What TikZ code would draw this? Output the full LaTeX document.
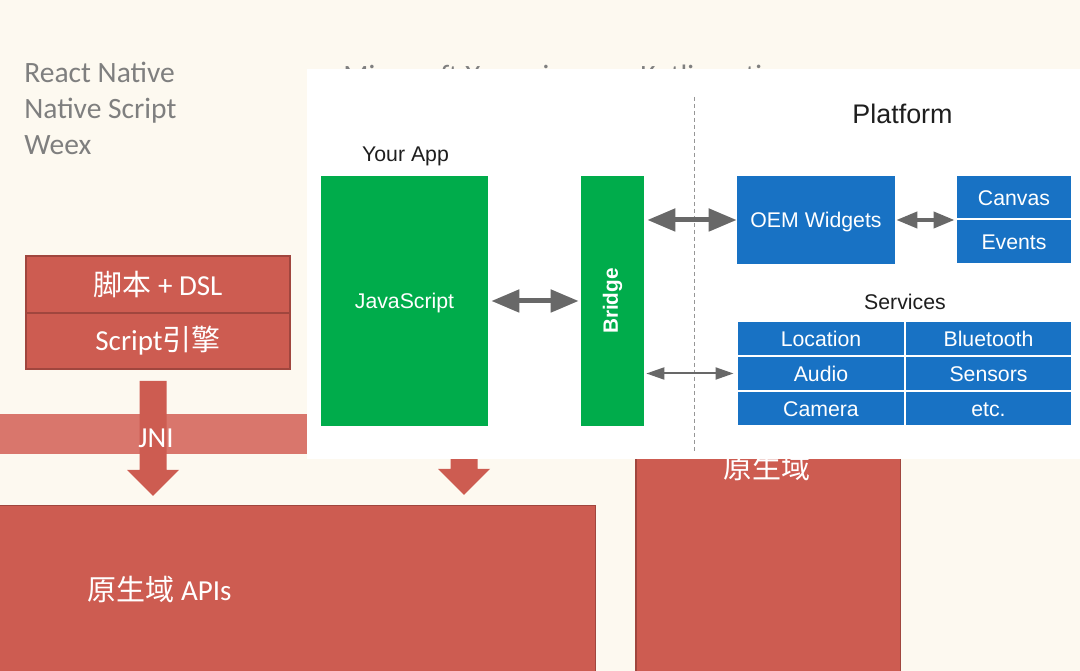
\documentclass[tikz,border=0pt]{standalone}
\usepackage{fontspec}
\setmainfont{Carlito}
\newfontfamily\arial{Liberation Sans}
\newfontfamily\cjk{Noto Sans CJK SC}
\usetikzlibrary{arrows.meta,calc}

\definecolor{cream}{RGB}{253,249,240}
\definecolor{listgray}{RGB}{127,127,127}
\definecolor{slidered}{RGB}{205,92,81}
\definecolor{reddark}{RGB}{160,70,62}
\definecolor{bandred}{RGB}{217,118,108}
\definecolor{appgreen}{RGB}{0,172,75}
\definecolor{platblue}{RGB}{24,114,196}
\definecolor{arrowgray}{RGB}{104,104,104}
\definecolor{txtdark}{RGB}{30,30,30}
\definecolor{dashgray}{RGB}{150,150,150}

% filled block arrow pointing down, from #1 (top of shaft) to #2 (tip)
\newcommand\blockdown[2]{%
  \fill[slidered] ($(#1)+(-13.5,0)$) -- ($(#1)+(13.5,0)$) -- ($(#2)+(13.5,-26)$)
    -- ($(#2)+(26,-26)$) -- (#2) -- ($(#2)+(-26,-26)$) -- ($(#2)+(-13.5,-26)$) -- cycle;}

\begin{document}
\begin{tikzpicture}[x=0.02cm,y=-0.02cm,
  listtxt/.style={font=\fontsize{16.8}{19}\selectfont, text=listgray, inner sep=0, anchor=base west},
  slidetxt/.style={font=\fontsize{16.5}{19}\selectfont, text=white, inner sep=0},
  redbox/.style={fill=slidered, draw=reddark, line width=0.03cm, inner sep=0, text=white,
    font=\fontsize{16.5}{19}\selectfont},
  bandbox/.style={fill=bandred, inner sep=0},
  arialtxt/.style={font=\arial\fontsize{12.1}{14}\selectfont, text=txtdark, inner sep=0},
  greenbox/.style={fill=appgreen, inner sep=0, text=white, text height=8.7pt, text depth=0pt,
    font=\arial\fontsize{12.1}{14}\selectfont},
  bluebox/.style={fill=platblue, inner sep=0, text=white, text height=8.7pt, text depth=0pt,
    font=\arial\fontsize{12.1}{14}\selectfont},
  cellbox/.style={bluebox, draw=white, line width=0.04cm, minimum height=0.7cm},
  bigarrow/.style={draw=arrowgray, line width=0.1cm,
    {Triangle[length=0.56cm,width=0.44cm]}-{Triangle[length=0.56cm,width=0.44cm]}},
  medarrow/.style={draw=arrowgray, line width=0.08cm,
    {Triangle[length=0.42cm,width=0.32cm]}-{Triangle[length=0.42cm,width=0.32cm]}},
  thinarrow/.style={draw=arrowgray, line width=0.04cm,
    {Triangle[length=0.36cm,width=0.24cm]}-{Triangle[length=0.36cm,width=0.24cm]}}
]
\fill[cream] (0,0) rectangle (1080,671);
\useasboundingbox (0,0) rectangle (1080,671);

% cross-platform frameworks
\node[listtxt] (rn) at (24,83) {React Native};
\node[listtxt] (ns) at (24,119) {Native Script};
\node[listtxt] (wx) at (24,155) {Weex};
\node[listtxt] (xm) at (343,86) {Microsoft Xamarin};
\node[listtxt] (kn) at (640,86) {Kotlin native};

% script stack
\node[redbox, minimum width=5.28cm, minimum height=1.14cm] (dsl) at (158,284.5) {{\cjk 脚本} + DSL};
\node[redbox, minimum width=5.28cm, minimum height=1.12cm] (engine) at (158,341) {Script{\cjk 引擎}};

% JNI layer
\node[bandbox, minimum width=6.14cm, minimum height=0.8cm, anchor=north west] (jni) at (0,414) {};
\coordinate (a1top) at (153,381);
\coordinate (a1tip) at (153,496);
\blockdown{a1top}{a1tip}
\node[slidetxt] (jnilbl) at (156,438) {JNI};

\coordinate (a2top) at (464,430);
\coordinate (a2tip) at (464,495);
\blockdown{a2top}{a2tip}

% native side
\node[redbox, minimum width=12cm, minimum height=3.5cm, anchor=north west] (apis) at (-5,505) {};
\node[slidetxt] (apislbl) at (159.5,589) {{\cjk 原生域} APIs};
\node[redbox, minimum width=5.3cm, minimum height=4.8cm, anchor=north west] (native) at (635,440) {};
\node[slidetxt, font=\cjk\fontsize{16.5}{19}\selectfont] (nativelbl) at (767,467) {原生域};

% React Native architecture panel
\node[fill=white, inner sep=0, minimum width=15.46cm, minimum height=7.8cm, anchor=north west] (panel) at (307,69) {};

\node[arialtxt] (yourapp) at (405.5,156) {Your App};
\node[greenbox, minimum width=3.34cm, minimum height=5cm] (js) at (404.5,301) {JavaScript};
\node[greenbox, minimum width=1.26cm, minimum height=5cm] (bridge) at (612.5,301) {};
\node[text=white, inner sep=0, rotate=90, font=\arial\bfseries\fontsize{11.8}{14}\selectfont] (bridgelbl) at (bridge.center) {Bridge};

\coordinate (dtop) at (694,97);
\coordinate (dbot) at (694,452);
\draw[dashgray, line width=0.02cm, dash pattern=on 0.08cm off 0.06cm] (dtop) -- (dbot);

\node[arialtxt, font=\arial\fontsize{15.3}{18}\selectfont] (platform) at (902.5,114) {Platform};
\node[bluebox, minimum width=3.16cm, minimum height=1.76cm] (oem) at (816,220) {OEM Widgets};
\node[bluebox, draw=white, line width=0.04cm, minimum width=2.34cm, minimum height=0.9cm] (canvas) at (1014,198) {Canvas};
\node[bluebox, draw=white, line width=0.04cm, minimum width=2.34cm, minimum height=0.9cm] (events) at (1014,242) {Events};

\node[arialtxt] (services) at (905,302) {Services};
\node[cellbox, minimum width=3.38cm] (location) at (821,338.5) {Location};
\node[cellbox, minimum width=3.36cm] (bluetooth) at (988.5,338.5) {Bluetooth};
\node[cellbox, minimum width=3.38cm] (audio) at (821,373.5) {Audio};
\node[cellbox, minimum width=3.36cm] (sensors) at (988.5,373.5) {Sensors};
\node[cellbox, minimum width=3.38cm] (camera) at (821,408.5) {Camera};
\node[cellbox, minimum width=3.36cm] (etc) at (988.5,408.5) {etc.};

% connectors
\draw[bigarrow, shorten <=0.06cm, shorten >=0.04cm] (js.east) -- (bridge.west);
\draw[bigarrow, shorten <=0.06cm] (bridge.east |- oem.west) -- (oem.west);
\draw[medarrow, shorten <=0.02cm] (oem.east) -- (canvas.west |- oem.east);
\draw[thinarrow, shorten <=0.04cm, shorten >=0.04cm] (bridge.east |- audio.west) -- (audio.west);
\end{tikzpicture}
\end{document}
